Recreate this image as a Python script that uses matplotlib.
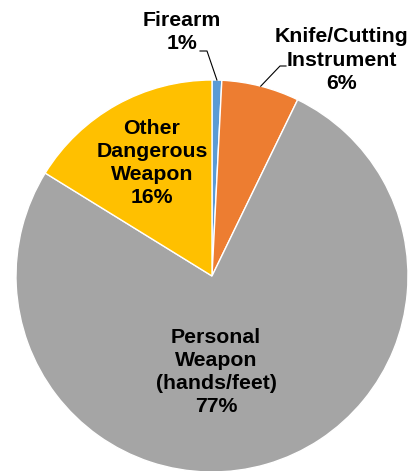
import numpy as np
import matplotlib
import matplotlib.pyplot as plt

matplotlib.rc('font', family='Liberation Sans', weight='bold')

# data
labels = ['Firearm', 'Knife/Cutting\nInstrument', 'Personal\nWeapon\n(hands/feet)', 'Other\nDangerous\nWeapon']
shares = [0.8, 6.4, 76.6, 16.2]
pct_text = ['1%', '6%', '77%', '16%']
colors = ['#5B9BD5', '#ED7D31', '#A5A5A5', '#FFC000']

W, H = 416, 471
cx, cy, r = 212, H - 276, 196

fig = plt.figure(figsize=(W / 100, H / 100), dpi=100)
ax = fig.add_axes([0, 0, 1, 1])
wedges, _ = ax.pie(shares, colors=colors, startangle=90, counterclock=False,
                   center=(cx, cy), radius=r,
                   wedgeprops=dict(edgecolor='white', linewidth=1))
ax.set_xlim(0, W)
ax.set_ylim(0, H)
ax.set_aspect('equal')
ax.axis('off')

fs = 15.3
ls = 1.28
# inside labels
ax.text(152, H - 163, labels[3] + '\n' + pct_text[3], ha='center', va='center',
        fontsize=fs, linespacing=ls)
ax.text(216, H - 372, labels[2] + '\n' + pct_text[2], ha='center', va='center',
        fontsize=fs, linespacing=ls)

# outside labels with leader lines
ax.text(182, H - 32, labels[0] + '\n' + pct_text[0], ha='center', va='center',
        fontsize=fs, linespacing=ls)
ax.text(342, H - 60, labels[1] + '\n' + pct_text[1], ha='center', va='center',
        fontsize=fs, linespacing=ls)

def edge_point(i):
    w = wedges[i]
    a = np.deg2rad((w.theta1 + w.theta2) / 2)
    return cx + r * np.cos(a), cy + r * np.sin(a)

x0, y0 = edge_point(0)
ax.plot([200, 207, x0], [H - 51, H - 51, y0], color='black', lw=0.8)
x1, y1 = edge_point(1)
ax.plot([286, 280, x1], [H - 66, H - 66, y1], color='black', lw=0.8)

fig.savefig('out.png', dpi=100)
